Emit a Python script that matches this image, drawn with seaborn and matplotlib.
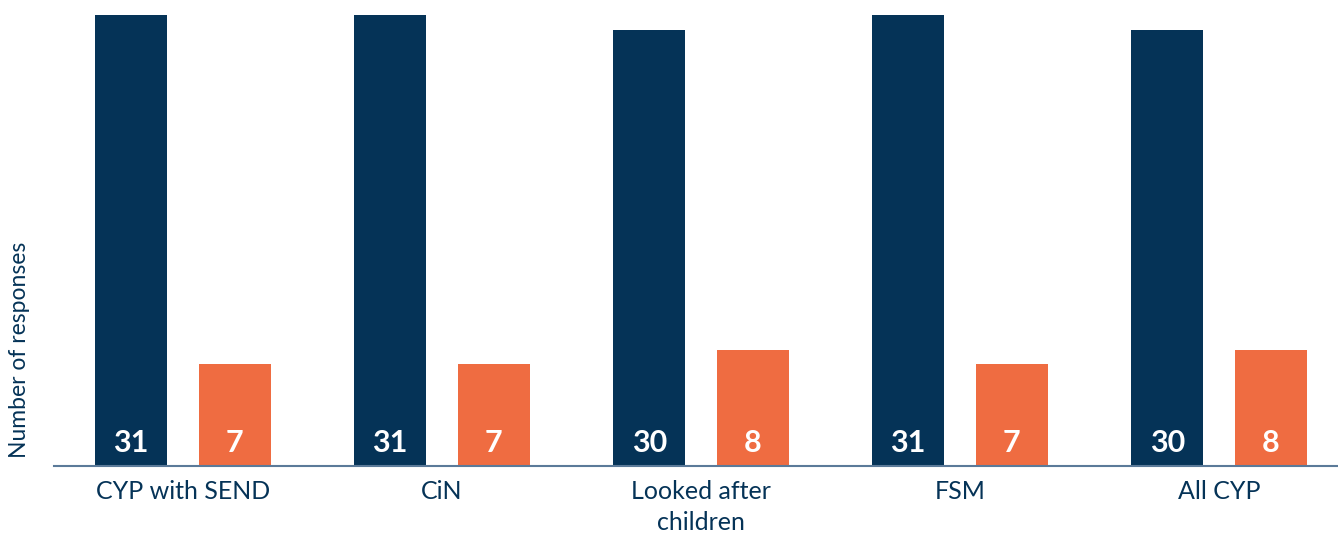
import matplotlib
matplotlib.use("Agg")
import matplotlib.pyplot as plt
import seaborn as sns
import pandas as pd

categories = ["CYP with SEND", "CiN", "Looked after\nchildren", "FSM", "All CYP"]
series_names = ["Yes", "No"]
values_a = [31, 31, 30, 31, 30]
values_b = [7, 7, 8, 7, 8]

NAVY = "#053357"
ORANGE = "#ef6c41"
AXIS = "#5b7a99"

rows = []
for c, a, b in zip(categories, values_a, values_b):
    rows.append({"category": c, "series": series_names[0], "value": a})
    rows.append({"category": c, "series": series_names[1], "value": b})
df = pd.DataFrame(rows)

sns.set_theme(style="white")
plt.rcParams["font.family"] = ["Lato", "DejaVu Sans"]

fig = plt.figure(figsize=(13.38, 5.35), dpi=100)
ax = fig.add_axes([53.5 / 1338, 69 / 535, 1295 / 1338, 451 / 535])

sns.barplot(data=df, x="category", y="value", hue="series",
            palette=[NAVY, ORANGE], width=0.8, gap=0.3, ax=ax,
            legend=False, saturation=1, linewidth=0)

ax.set_ylim(0, 31)
ax.set_xlim(-0.5, 4.5)
ax.set_yticks([])
ax.set_xlabel("")
ax.set_ylabel("")
for s in ["top", "right", "left"]:
    ax.spines[s].set_visible(False)
ax.spines["bottom"].set_color(AXIS)
ax.spines["bottom"].set_linewidth(1.5)
ax.tick_params(axis="x", length=0, pad=10, labelsize=18, labelcolor=NAVY)
for lbl in ax.get_xticklabels():
    lbl.set_linespacing(1.45)

for container in ax.containers:
    for patch in container:
        h = patch.get_height()
        cx = patch.get_x() + patch.get_width() / 2
        ax.annotate(f"{int(round(h))}", xy=(cx, 0), xytext=(0, 16.5),
                    textcoords="offset points", ha="center", va="center",
                    color="white", fontsize=22, fontweight="bold")

fig.text(20 / 1338, 1 - 350 / 535, "Number of responses", rotation=90,
         ha="center", va="center", fontsize=16.5, color=NAVY)

fig.savefig("out.png", dpi=100)
